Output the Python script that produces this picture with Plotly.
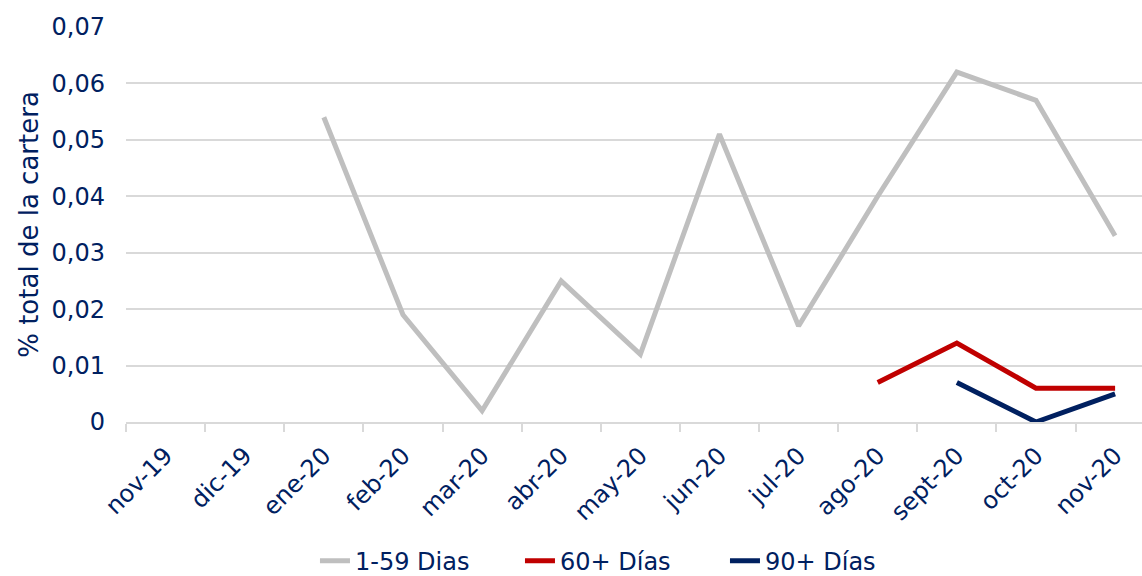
import plotly.graph_objects as go

categories = ["nov-19", "dic-19", "ene-20", "feb-20", "mar-20", "abr-20", "may-20",
              "jun-20", "jul-20", "ago-20", "sept-20", "oct-20", "nov-20"]
s1_59 = [None, None, 0.054, 0.019, 0.002, 0.025, 0.012, 0.051, 0.017, 0.040, 0.062, 0.057, 0.033]
s60 = [None, None, None, None, None, None, None, None, None, 0.007, 0.014, 0.006, 0.006]
s90 = [None, None, None, None, None, None, None, None, None, None, 0.007, 0.000, 0.005]
y_ticks = [0, 0.01, 0.02, 0.03, 0.04, 0.05, 0.06, 0.07]
y_ticktext = ["0", "0,01", "0,02", "0,03", "0,04", "0,05", "0,06", "0,07"]

navy = "#002060"
font = "DejaVu Sans"

fig = go.Figure()
fig.add_trace(go.Scatter(x=categories, y=s1_59, mode="lines", name="1-59 Dias",
                         line=dict(color="#bfbfbf", width=5)))
fig.add_trace(go.Scatter(x=categories, y=s60, mode="lines", name="60+ Días",
                         line=dict(color="#c00000", width=5)))
fig.add_trace(go.Scatter(x=categories, y=s90, mode="lines", name="90+ Días",
                         line=dict(color=navy, width=5)))

fig.update_layout(
    width=1142, height=576,
    margin=dict(l=126, r=0, t=27, b=154, autoexpand=False),
    paper_bgcolor="white", plot_bgcolor="white",
    font=dict(family=font, color=navy, size=24),
    legend=dict(orientation="h", x=0.186, xanchor="left", y=-0.352, yanchor="middle",
                font=dict(size=24, color=navy), entrywidth=160, entrywidthmode="pixels"),
    xaxis=dict(type="category", range=[-0.5, 12.34], tickson="boundaries",
               ticks="outside", ticklen=8, tickcolor="#d9d9d9", tickwidth=2,
               showline=True, linecolor="#d9d9d9", linewidth=2, automargin=False,
               showgrid=False, tickangle=-45, tickfont=dict(size=24, color=navy),
               ticklabelstandoff=8),
    yaxis=dict(range=[0, 0.07], tickvals=y_ticks, ticktext=y_ticktext,
               showgrid=True, gridcolor="#d9d9d9", gridwidth=2, zeroline=False,
               showline=False, ticks="", tickfont=dict(size=24, color=navy),
               ticklabelstandoff=20, automargin=False,
               title=dict(text="% total de la cartera", font=dict(size=26, color=navy), standoff=5)),
)

fig.write_html("out.html")
